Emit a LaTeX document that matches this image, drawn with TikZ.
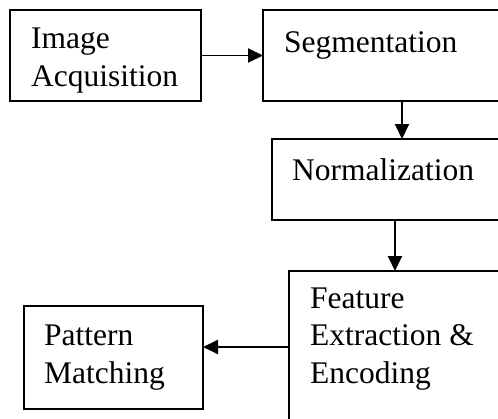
\documentclass[tikz,border=0pt]{standalone}
\usepackage{fontspec}
\setmainfont{Liberation Serif}
\usetikzlibrary{arrows.meta}
\begin{document}
\begin{tikzpicture}[x=1pt,y=-1pt,
  box/.style={draw, line width=1.9pt, inner sep=0pt, outer sep=0pt, anchor=north west},
  lbl/.style={anchor=base west, inner sep=0pt, align=left, font=\fontsize{31.5}{37.5}\selectfont},
  arr/.style={line width=1.9pt, -{Triangle[length=15pt,width=14pt]}}]
\useasboundingbox (0,0) rectangle (498,418);
\clip (0,0) rectangle (498,418);
% boxes
\node[box, minimum width=191pt, minimum height=91pt] (img) at (10,10) {};
\node[box, minimum width=278pt, minimum height=91pt] (seg) at (263,10) {};
\node[box, minimum width=260pt, minimum height=81pt] (norm) at (272,139) {};
\node[box, minimum width=212pt, minimum height=152pt] (feat) at (289,271) {};
\node[box, minimum width=179pt, minimum height=103pt] (pat) at (24,306) {};
% texts (anchor = baseline of last line)
\node[lbl] (timg) at (31,86) {Image\\Acquisition};
\node[lbl] (tseg) at (284,52) {Segmentation};
\node[lbl] (tnorm) at (292,180) {Normalization};
\node[lbl] (tfeat) at (310,383) {Feature\\Extraction \&\\Encoding};
\node[lbl] (tpat) at (44,383) {Pattern\\Matching};
% connectors
\draw[arr] (img.east) -- (img.east -| seg.west);
\draw[arr] (seg.south) -- (norm.north);
\draw[arr] (norm.south -| feat.north) -- (feat.north);
\draw[arr] (feat.west) -- (feat.west -| pat.east);
\end{tikzpicture}
\end{document}
